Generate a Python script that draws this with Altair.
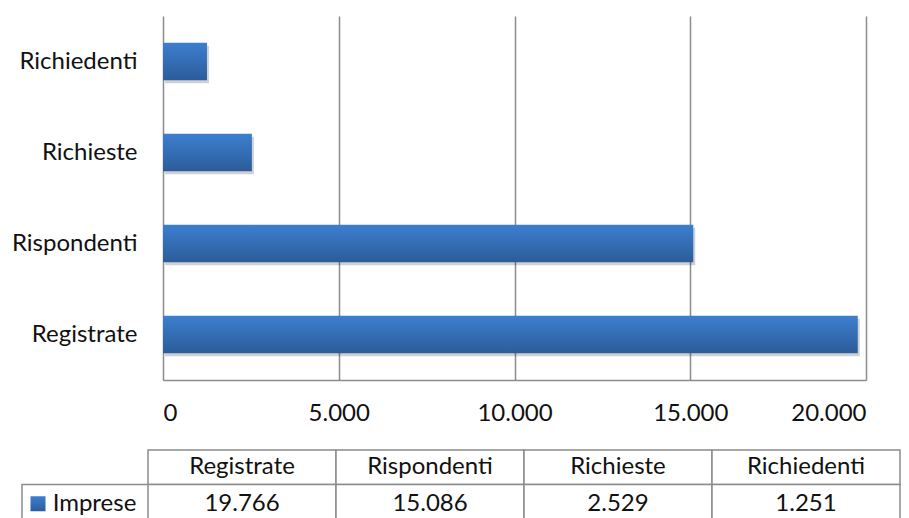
import altair as alt
import pandas as pd

categories = ["Registrate", "Rispondenti", "Richieste", "Richiedenti"]
values = [19766, 15086, 2529, 1251]
series_name = "Imprese"
x_ticks = [0, 5000, 10000, 15000, 20000]

FONT = "Lato"
FS = 24
GRID = "#8c8c8c"

df = pd.DataFrame({"cat": categories, "val": values})
df["lbl"] = [f"{v:,}".replace(",", ".") for v in values]

grad = alt.Gradient(
    gradient="linear",
    stops=[alt.GradientStop(color="#3c7fd0", offset=0),
           alt.GradientStop(color="#2c5c9a", offset=1)],
    x1=0, x2=0, y1=0, y2=1,
)

y_enc = alt.Y("cat:N", sort=categories[::-1],
              scale=alt.Scale(paddingInner=0.59, paddingOuter=0.295),
              axis=alt.Axis(title=None, labelFont=FONT, labelFontSize=FS,
                            labelColor="#111", labelPadding=26, ticks=False,
                            domain=False, grid=False, minExtent=154, maxExtent=154))
x_enc = alt.X("val:Q", scale=alt.Scale(domain=[0, 20000], nice=False),
              axis=alt.Axis(title=None, values=x_ticks, labelFont=FONT,
                            labelFontSize=FS, labelColor="#111",
                            labelPadding=21, ticks=False, grid=True,
                            gridColor=GRID, gridWidth=1.5, domainColor=GRID,
                            domainWidth=1.5,
                            labelExpr="replace(format(datum.value, ','), ',', '.')"))

shadow = alt.Chart(df).mark_bar(color="#000", opacity=0.18, xOffset=2, yOffset=3).encode(x=x_enc, y=y_enc)
bars = alt.Chart(df).mark_bar(color=grad).encode(x=x_enc, y=y_enc)
bar_chart = alt.layer(shadow, bars).properties(width=703, height=364)

spacer = alt.Chart(pd.DataFrame({"a": [0]})).mark_point(
    opacity=0, size=0, strokeWidth=0).encode(
    x=alt.value(0), y=alt.value(1)).properties(width=1, height=364)
top = alt.hconcat(spacer, bar_chart, spacing=0)

# data table
TW = 754
TH = 69
YR = [1, 70]
rows = pd.DataFrame({
    "cat": categories * 2,
    "row": ["h"] * 4 + ["v"] * 4,
    "txt": categories + list(df["lbl"]),
})
tx = alt.X("cat:N", sort=categories,
           scale=alt.Scale(paddingInner=0, paddingOuter=0, range=[1, TW - 1]), axis=None)
ty = alt.Y("row:N", sort=["h", "v"],
           scale=alt.Scale(paddingInner=0, paddingOuter=0, range=YR), axis=None)
cells = alt.Chart(rows).mark_rect(fill="white", stroke=GRID, strokeWidth=1.5, clip=True).encode(x=tx, y=ty)
htexts = alt.Chart(rows).transform_filter(alt.datum.row == "h").mark_text(
    font=FONT, fontSize=FS, color="#111", dy=0).encode(x=tx, y=ty, text="txt:N")
vtexts = alt.Chart(rows).transform_filter(alt.datum.row == "v").mark_text(
    font=FONT, fontSize=FS, color="#111", dy=2).encode(x=tx, y=ty, text="txt:N")
table = alt.layer(cells, htexts, vtexts).properties(width=TW, height=TH)

lab = pd.DataFrame({"name": [series_name], "row": ["v"]})
lx = alt.X("name:N", scale=alt.Scale(paddingInner=0, paddingOuter=0, range=[14, 145]), axis=None)
ly = alt.Y("row:N", scale=alt.Scale(domain=["h", "v"], paddingInner=0, paddingOuter=0, range=YR), axis=None)
lcell = alt.Chart(lab).mark_rect(fill="white", stroke=GRID, strokeWidth=1.5, clip=True).encode(x=lx, y=ly)
ltext = alt.Chart(lab).mark_text(font=FONT, fontSize=FS, color="#111", dx=7, dy=2).encode(x=lx, y=ly, text="name:N")
lsq = alt.Chart(lab).mark_square(color=grad, size=225, opacity=1, xOffset=-49.5, yOffset=2).encode(x=lx, y=ly)
label_chart = alt.layer(lcell, ltext, lsq).properties(width=139, height=TH)

bottom = alt.hconcat(label_chart, table, spacing=0)

chart = alt.vconcat(top, bottom, spacing=24).properties(
    padding={"top": 8, "left": 0, "right": 0, "bottom": 0}
).configure_view(stroke=None)

chart.save("out.html", embed_options={"renderer": "svg", "actions": False})
